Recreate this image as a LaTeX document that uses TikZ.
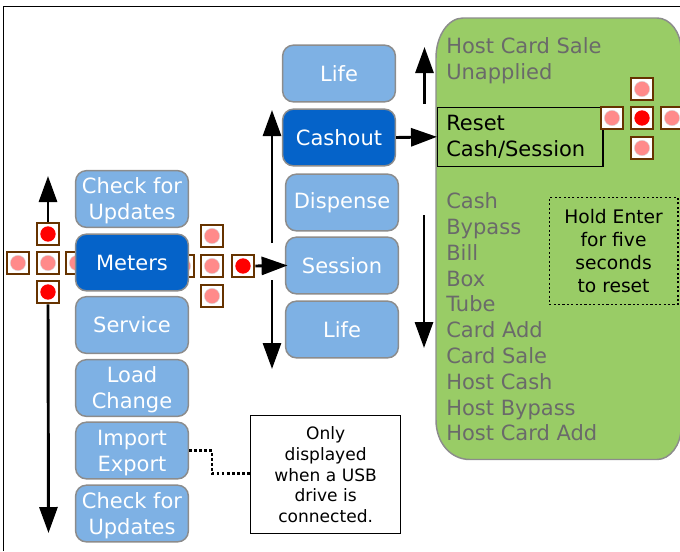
\documentclass[tikz,border=0pt]{standalone}
\usepackage{fontspec}
\setmainfont{DejaVu Sans}
\usetikzlibrary{arrows.meta}
\definecolor{lightblue}{HTML}{7EB1E4}
\definecolor{darkblue}{HTML}{0563C9}
\definecolor{boxedge}{HTML}{8C8C8C}
\definecolor{panel}{HTML}{99CC66}
\definecolor{brown}{HTML}{663300}
\definecolor{pinkdot}{HTML}{FF8A8A}
\definecolor{greytext}{HTML}{6A6A6A}
\tikzset{
  x=0.75pt,y=-0.75pt,
  menubase/.style={rounded corners=8pt,draw=boxedge,line width=1.1pt,text=white,minimum width=84.5pt,minimum height=42.5pt,inner sep=0pt,align=center,font=\fontsize{15.75}{19.5}\selectfont},
  menubox/.style={menubase,fill=lightblue},
  menusel/.style={menubase,fill=darkblue},
  btnbox/.style={draw=brown,fill=white,line width=2.2pt,minimum size=16.5pt,inner sep=0pt},
  pinkd/.style={circle,fill=pinkdot,draw=black!15,line width=.3pt,minimum size=11.5pt,inner sep=0pt},
  redd/.style={circle,fill=red,minimum size=11.5pt,inner sep=0pt},
  bigarrow/.style={line width=2.2pt,-{Triangle[length=19.5pt,width=13.5pt]},black},
  listtext/.style={anchor=north west,inner sep=0pt,align=left,text=greytext,font=\fontsize{15.75}{19.35}\selectfont},
  notebox/.style={anchor=north west,inner sep=0pt,align=center,text=black},
}
\newcommand{\btn}[4]{\node[btnbox] (#1) at (#2,#3) {}; \node[#4] (#1-dot) at (#1) {};}
\newcommand{\lowered}{\rule{0pt}{15pt}}
\begin{document}
\begin{tikzpicture}
\useasboundingbox (0,0) rectangle (680,551);
\draw[line width=1pt] (3.5,551) -- (3.5,6.5) -- (680,6.5);

% green panel
\draw[draw=boxedge,fill=panel,line width=1.1pt]
  (436,58) .. controls (436,36) and (448,18) .. (463,18)
  -- (657,18) .. controls (670,18) and (681,32) .. (681,50)
  -- (681,428) .. controls (681,445) and (670,459.5) .. (657,459.5)
  -- (470,459.5) .. controls (450,459.5) and (436,442) .. (436,420) -- cycle;
\node[listtext] (hostlist) at (446,37.5) {Host Card Sale\\Unapplied};
\node[listtext] (mainlist) at (446,192.5) {Cash\\Bypass\\Bill\\Box\\Tube\\Card Add\\Card Sale\\Host Cash\\Host Bypass\\Host Card Add};
\node[draw=black,line width=1pt,minimum width=124pt,minimum height=44.5pt,anchor=north west,inner sep=0pt] (reset) at (437,106.5) {};
\node[anchor=north west,inner sep=0pt,align=left,font=\fontsize{15.75}{19.5}\selectfont] (resettext) at (446,114.5) {Reset\\Cash/Session};
\node[draw=black,line width=1.1pt,dash pattern=on 1.6pt off 1.7pt,minimum width=96.5pt,minimum height=80pt,notebox,font=\fontsize{14}{17.3}\selectfont] (hold) at (548.5,197) {Hold Enter\\for five\\seconds\\to reset};

% buttons behind the Meters box
\btn{la}{77}{263}{pinkd}
\btn{rb}{183}{266}{pinkd}

% left column
\node[menubox] (m1) at (132,199) {\lowered Check for\\Updates};
\node[menusel] (m2) at (132,262.5) {Meters};
\node[menubox] (m3) at (132,325) {Service};
\node[menubox] (m4) at (132,388) {\lowered Load\\Change};
\node[menubox] (m5) at (132,450.5) {\lowered Import\\Export};
\node[menubox] (m6) at (132,513.5) {\lowered Check for\\Updates};

% middle column
\node[menubox] (c1) at (339,73.5) {Life};
\node[menusel] (c2) at (339,137.5) {Cashout};
\node[menubox] (c3) at (342,202.5) {Dispense};
\node[menubox] (c4) at (342,265.5) {Session};
\node[menubox] (c5) at (342,329.5) {Life};

% left buttons
\btn{lt}{48}{234}{redd}
\btn{ll}{18}{263}{pinkd}
\btn{lc}{48}{263}{pinkd}
\btn{lb}{48}{292}{redd}
% right-of-Meters buttons
\btn{ra}{212}{236}{pinkd}
\btn{rc}{212}{266}{pinkd}
\btn{rd}{212}{296}{pinkd}
\btn{re}{243}{266}{redd}
% reset buttons
\btn{pt}{642}{89}{pinkd}
\btn{pl}{612}{118}{pinkd}
\btn{pc}{642}{118}{redd}
\btn{pr}{672}{118}{pinkd}
\btn{pb}{642}{148}{pinkd}

% USB note
\node[draw=black,fill=white,line width=1pt,minimum width=112.5pt,minimum height=88.5pt,notebox,font=\fontsize{12.8}{15.5}\selectfont] (usb) at (250,415) {Only\\displayed\\when a USB\\drive is\\connected.};

% free ends
\coordinate (ltip) at (48,176);
\coordinate (ldown) at (48.5,533);
\coordinate (ustart) at (272,243);
\coordinate (utip) at (272,110);
\coordinate (dstart) at (272,280);
\coordinate (dtip) at (272,369);
\coordinate (gustart) at (424.5,104);
\coordinate (gutip) at (424.5,47);
\coordinate (gdstart) at (424,215);
\coordinate (gdtip) at (424,348);

\draw[bigarrow] (lt.north) -- (ltip);
\draw[bigarrow] (lb.south) -- (ldown);
\draw[bigarrow,shorten >=-2pt] (re.east) -- (c4.west);
\draw[bigarrow] (ustart) -- (utip);
\draw[bigarrow] (dstart) -- (dtip);
\draw[bigarrow] (c2.east) -- (reset.west);
\draw[bigarrow] (gustart) -- (gutip);
\draw[bigarrow] (gdstart) -- (gdtip);
\draw[line width=2pt,dash pattern=on 2pt off 1.8pt] (m5.east) -- (212,450.5) -- (212,473.5) -- (usb.west |- 0,473.5);
\end{tikzpicture}
\end{document}
